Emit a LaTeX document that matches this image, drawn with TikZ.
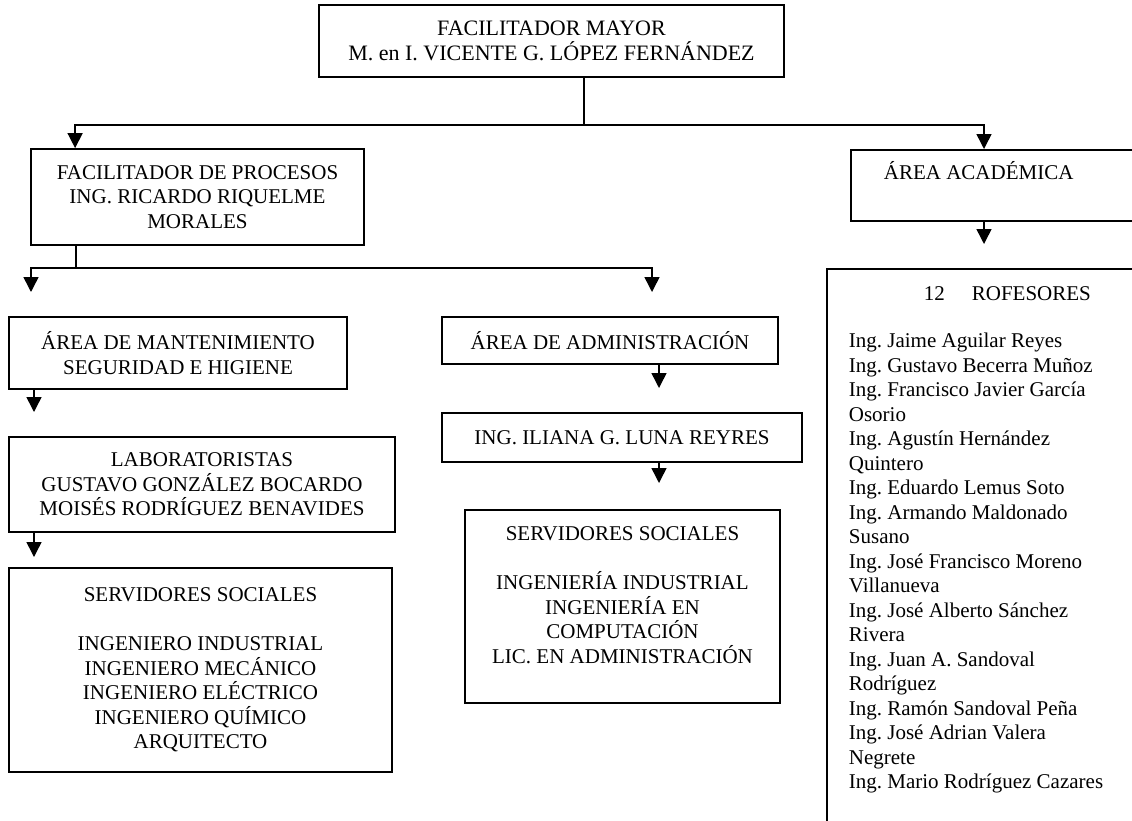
\documentclass[tikz,border=0pt]{standalone}
\usepackage{fontspec}
\setmainfont{Liberation Serif}
\usetikzlibrary{arrows.meta,calc}
\frenchspacing

\tikzset{
  caja/.style={draw, line width=1.8pt, align=center, inner sep=0pt, font=\fontsize{21}{24.5}\selectfont},
  linea/.style={line width=1.5pt},
  flecha/.style={line width=1.5pt, -{Triangle[width=15pt,length=15pt]}},
}

\begin{document}
\begin{tikzpicture}[x=1pt, y=-1pt]
        \clip (0,0) rectangle (1132,820);
        \fill[white] (0,0) rectangle (1132,820);
        % cajas
        \node[caja, minimum width=465pt, minimum height=72pt, font=\fontsize{22}{24.5}\selectfont] (mayor) at (551.5,41) {FACILITADOR MAYOR\\M. en I. VICENTE G. LÓPEZ FERNÁNDEZ};
        \node[caja, minimum width=333pt, minimum height=96pt] (procesos) at (197.5,197) {FACILITADOR DE PROCESOS\\ING. RICARDO RIQUELME\\MORALES};
        \node[caja, anchor=north west, align=flush left, text width=300pt, inner xsep=33pt, text height=30pt, text depth=41pt] (academica) at (850,149) {ÁREA ACADÉMICA};
        \node[caja, anchor=north west, align=flush left, text width=330pt, inner xsep=22pt, text height=32pt, text depth=560pt] (profesores) at (826,268) {\hspace*{75pt}12\hspace{27pt}ROFESORES\\[22.5pt]
            Ing. Jaime Aguilar Reyes\\Ing. Gustavo Becerra Muñoz\\Ing. Francisco Javier García\\Osorio\\Ing. Agustín Hernández\\Quintero\\Ing. Eduardo Lemus Soto\\Ing. Armando Maldonado\\Susano\\Ing. José Francisco Moreno\\Villanueva\\Ing. José Alberto Sánchez\\Rivera\\Ing. Juan A. Sandoval\\Rodríguez\\Ing. Ramón Sandoval Peña\\Ing. José Adrian Valera\\Negrete\\Ing. Mario Rodríguez Cazares};
        \node[caja, minimum width=338pt, minimum height=72pt] (mantenimiento) at (178,353) {ÁREA DE MANTENIMIENTO\\SEGURIDAD E HIGIENE};
        \node[caja, minimum width=336pt, minimum height=47pt] (administracion) at (610,340.5) {ÁREA DE ADMINISTRACIÓN};
        \node[caja, minimum width=386pt, minimum height=95pt] (laboratoristas) at (202,484.5) {LABORATORISTAS\\GUSTAVO GONZÁLEZ BOCARDO\\MOISÉS RODRÍGUEZ BENAVIDES};
        \node[caja, minimum width=360pt, minimum height=49pt] (iliana) at (622,437.5) {ING. ILIANA G. LUNA REYRES};
        \node[caja, minimum width=383pt, minimum height=204pt] (servL) at (200.5,670) {SERVIDORES SOCIALES\\[24.5pt]INGENIERO INDUSTRIAL\\INGENIERO MECÁNICO\\INGENIERO ELÉCTRICO\\INGENIERO QUÍMICO\\ARQUITECTO};
        \node[caja, anchor=north, align=flush center, text width=315pt, text height=31pt, text depth=162pt] (servM) at (622.5,509) {SERVIDORES SOCIALES\\[24.5pt]INGENIERÍA INDUSTRIAL\\INGENIERÍA EN\\COMPUTACIÓN\\LIC. EN ADMINISTRACIÓN};
        % conectores
        \coordinate (b1) at (584,125);
        \coordinate (b2) at (76,268);
        \coordinate (t1) at (31,292);
        \coordinate (t2) at (652,292);
        \coordinate (t3) at (984,244);
        \coordinate (t4) at (34,412);
        \coordinate (t5) at (34,557);
        \coordinate (t6) at (659,388);
        \coordinate (t7) at (659,483);
        \draw[linea] (mayor.south -| b1) -- (b1);
        \draw[flecha] (b1) -| ($(procesos.north west)+(45,0)$);
        \draw[flecha] (b1) -| ($(academica.north west)+(134,0)$);
        \draw[linea] (procesos.south -| b2) -- (b2);
        \draw[flecha] (b2) -| (t1);
        \draw[flecha] (b2) -| (t2);
        \draw[flecha] (academica.south -| t3) -- (t3);
        \draw[flecha] (mantenimiento.south -| t4) -- (t4);
        \draw[flecha] (laboratoristas.south -| t5) -- (t5);
        \draw[flecha] (administracion.south -| t6) -- (t6);
        \draw[flecha] (iliana.south -| t7) -- (t7);
    \end{tikzpicture}
\end{document}
